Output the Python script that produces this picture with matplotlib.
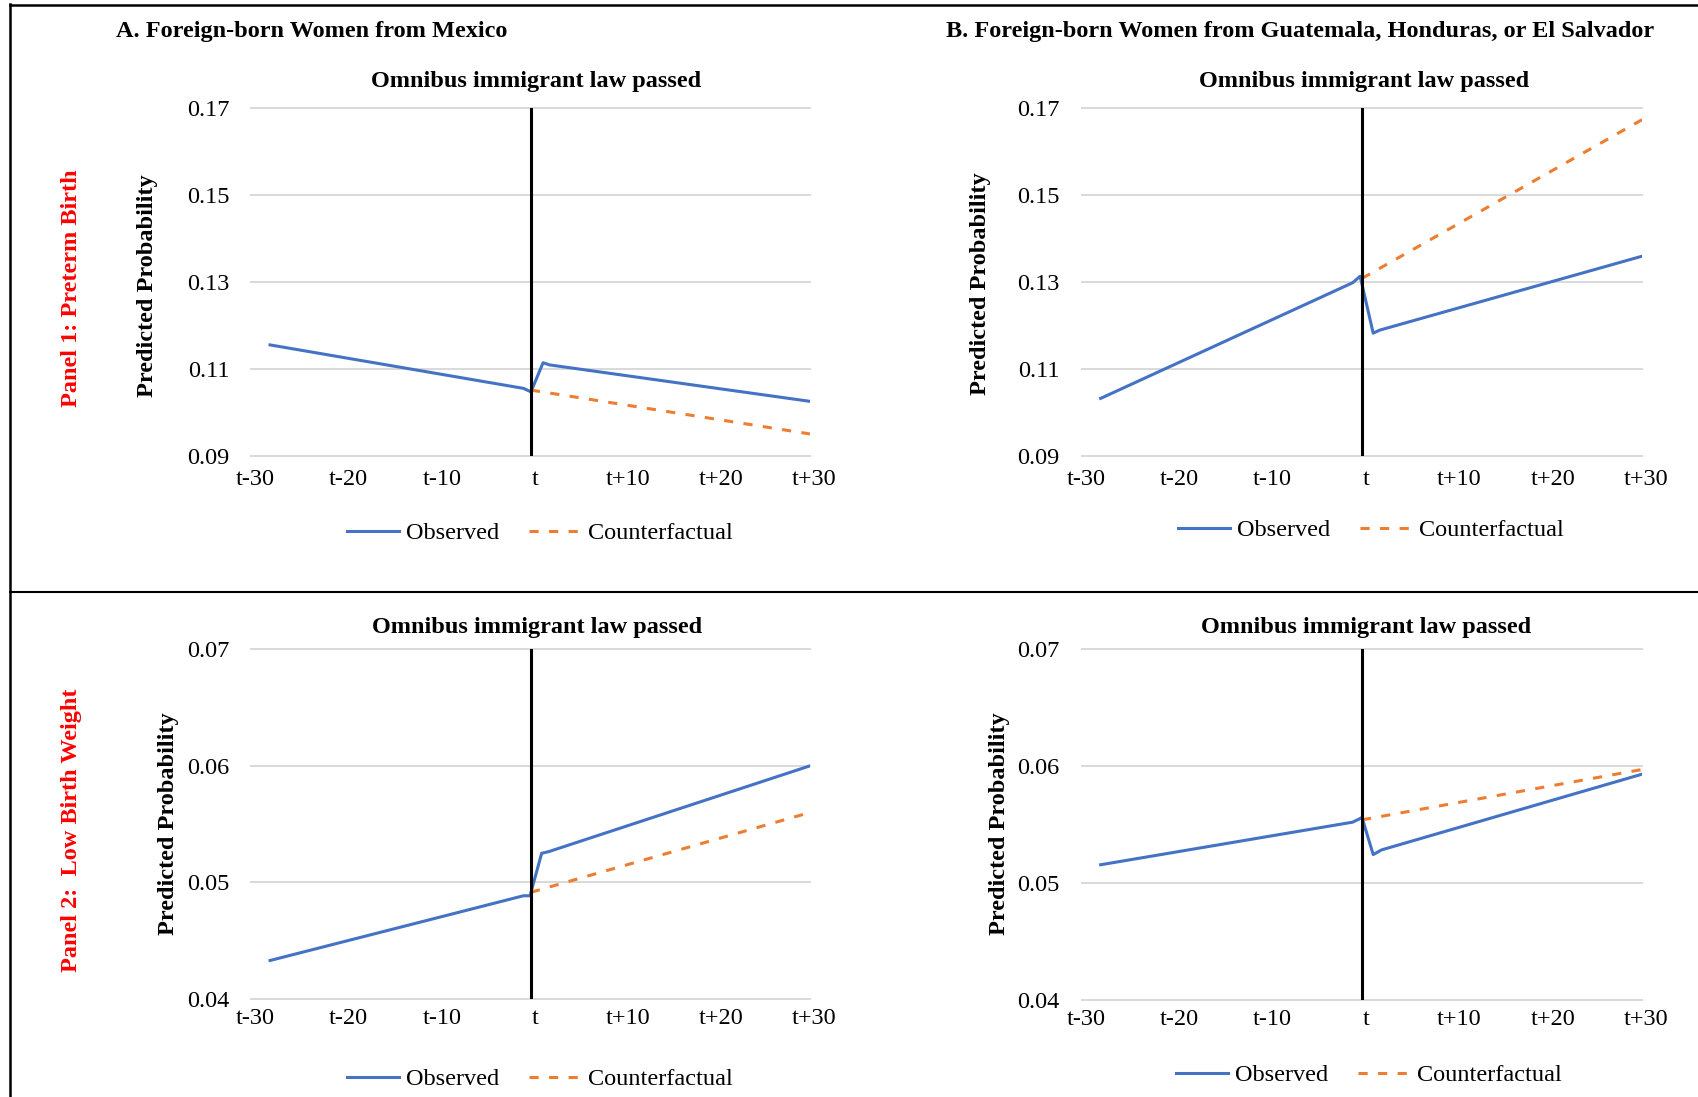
import matplotlib
matplotlib.use("Agg")
import matplotlib.pyplot as plt
import matplotlib.transforms as mtransforms
from matplotlib.lines import Line2D

plt.rcParams['font.family'] = ['Liberation Serif', 'DejaVu Serif']

W, H = 1699, 1097
FS = 17.5
BLUE = '#4472C4'
ORANGE = '#ED7D31'
GRID = '#D9D9D9'

x_ticks = [-30, -20, -10, 0, 10, 20, 30]
x_labels = ['t-30', 't-20', 't-10', 't', 't+10', 't+20', 't+30']

# Panel 1: preterm birth
pre_ticks = [0.09, 0.11, 0.13, 0.15, 0.17]
pre_labels = ['0.09', '0.11', '0.13', '0.15', '0.17']

mex_pre_obs_x = [-28, -0.8, 0, 1.3, 2.0, 30]
mex_pre_obs_y = [0.1156, 0.1056, 0.1048, 0.1115, 0.1110, 0.1026]
mex_pre_cf_x = [0, 30]
mex_pre_cf_y = [0.1052, 0.0951]

cam_pre_obs_x = [-28, -1.0, -0.2, 1.2, 1.9, 30]
cam_pre_obs_y = [0.1033, 0.1299, 0.1314, 0.1183, 0.1190, 0.1360]
cam_pre_cf_x = [0, 30]
cam_pre_cf_y = [0.1309, 0.1674]

# Panel 2: low birth weight
lbw_ticks = [0.04, 0.05, 0.06, 0.07]
lbw_labels = ['0.04', '0.05', '0.06', '0.07']

mex_lbw_obs_x = [-28, -0.8, -0.1, 1.15, 1.9, 30]
mex_lbw_obs_y = [0.0433, 0.04885, 0.04885, 0.05249, 0.05263, 0.0600]
mex_lbw_cf_x = [0, 30]
mex_lbw_cf_y = [0.04915, 0.0560]

cam_lbw_obs_x = [-28, -1.0, -0.25, 0, 1.2, 2.1, 30]
cam_lbw_obs_y = [0.05156, 0.0552, 0.05549, 0.0556, 0.05243, 0.05283, 0.0593]
cam_lbw_cf_x = [0, 30]
cam_lbw_cf_y = [0.0554, 0.0597]


def px_rect(l, t, r, b):
    return [l / W, 1 - b / H, (r - l) / W, (b - t) / H]


def fx(x):
    return x / W


def fy(y):
    return 1 - y / H


def draw_panel(fig, rect, obs_x, obs_y, cf_x, cf_y, yticks, ylabels,
               title_xy, ylab_xy, leg_xy, xpad=9):
    ax = fig.add_axes(px_rect(*rect))
    ax.plot(obs_x, obs_y, color=BLUE, lw=2.2, label='Observed', zorder=3)
    ax.plot(cf_x, cf_y, color=ORANGE, lw=2.2, dashes=(3.0, 3.4),
            label='Counterfactual', zorder=3)
    ax.axvline(0, color='black', lw=2.2, zorder=5)
    ax.set_xlim(-30, 30)
    ax.set_ylim(yticks[0], yticks[-1])
    ax.set_xticks(x_ticks)
    ax.set_xticklabels(x_labels, fontsize=FS)
    ax.set_yticks(yticks)
    ax.set_yticklabels(ylabels, fontsize=FS)
    ax.tick_params(axis='both', length=0)
    ax.tick_params(axis='x', pad=xpad)
    ax.tick_params(axis='y', pad=16)
    # excel puts the category labels a little to the right
    shift = mtransforms.ScaledTranslation(4 / 100, 0, fig.dpi_scale_trans)
    for lab in ax.get_xticklabels():
        lab.set_transform(lab.get_transform() + shift)
    ax.grid(axis='y', color=GRID, lw=1.4, zorder=1)
    for gl in ax.get_ygridlines():
        gl.set_clip_on(False)
    for s in ax.spines.values():
        s.set_visible(False)
    ax.set_axisbelow(True)

    fig.text(fx(title_xy[0]), fy(title_xy[1]), 'Omnibus immigrant law passed',
             ha='center', va='center', fontsize=FS, weight='bold')
    fig.text(fx(ylab_xy[0]), fy(ylab_xy[1]), 'Predicted Probability',
             ha='center', va='center', rotation=90, fontsize=FS, weight='bold')
    ax.legend(loc='center', bbox_to_anchor=(fx(leg_xy[0]), fy(leg_xy[1])),
              bbox_transform=fig.transFigure, ncol=2, frameon=False,
              fontsize=FS, handlelength=2.15, handletextpad=0.3,
              columnspacing=1.2)
    return ax


fig = plt.figure(figsize=(W / 100, H / 100), dpi=100)

draw_panel(fig, (251.4, 108.4, 810.5, 456.2), mex_pre_obs_x, mex_pre_obs_y,
           mex_pre_cf_x, mex_pre_cf_y, pre_ticks, pre_labels,
           (536, 81), (148, 286), (540, 533))
draw_panel(fig, (1082, 108.4, 1642, 456.2), cam_pre_obs_x, cam_pre_obs_y,
           cam_pre_cf_x, cam_pre_cf_y, pre_ticks, pre_labels,
           (1364, 81), (981, 284), (1371, 530))
draw_panel(fig, (251.4, 649, 810.5, 999), mex_lbw_obs_x, mex_lbw_obs_y,
           mex_lbw_cf_x, mex_lbw_cf_y, lbw_ticks, lbw_labels,
           (537, 627), (169, 824), (540, 1079), xpad=6.5)
draw_panel(fig, (1082, 649, 1642, 1000), cam_lbw_obs_x, cam_lbw_obs_y,
           cam_lbw_cf_x, cam_lbw_cf_y, lbw_ticks, lbw_labels,
           (1366, 627), (1000, 824), (1369, 1075), xpad=6.5)

fig.text(fx(116), fy(31), 'A. Foreign-born Women from Mexico',
         ha='left', va='center', fontsize=FS, weight='bold')
fig.text(fx(946), fy(31),
         'B. Foreign-born Women from Guatemala, Honduras, or El Salvador',
         ha='left', va='center', fontsize=FS, weight='bold')

fig.text(fx(72), fy(288), 'Panel 1: Preterm Birth', color='red',
         ha='center', va='center', rotation=90, fontsize=FS, weight='bold')
fig.text(fx(72), fy(830), 'Panel 2:  Low Birth Weight', color='red',
         ha='center', va='center', rotation=90, fontsize=FS, weight='bold')

# frame lines
fig.add_artist(Line2D([fx(10.5), fx(10.5)], [fy(4), 0], color='black', lw=1.8))
fig.add_artist(Line2D([fx(10), 1], [fy(4.5), fy(4.5)], color='black', lw=1.8))
fig.add_artist(Line2D([fx(10), 1], [fy(592), fy(592)], color='black', lw=1.5))

fig.savefig('out.png', dpi=100)
